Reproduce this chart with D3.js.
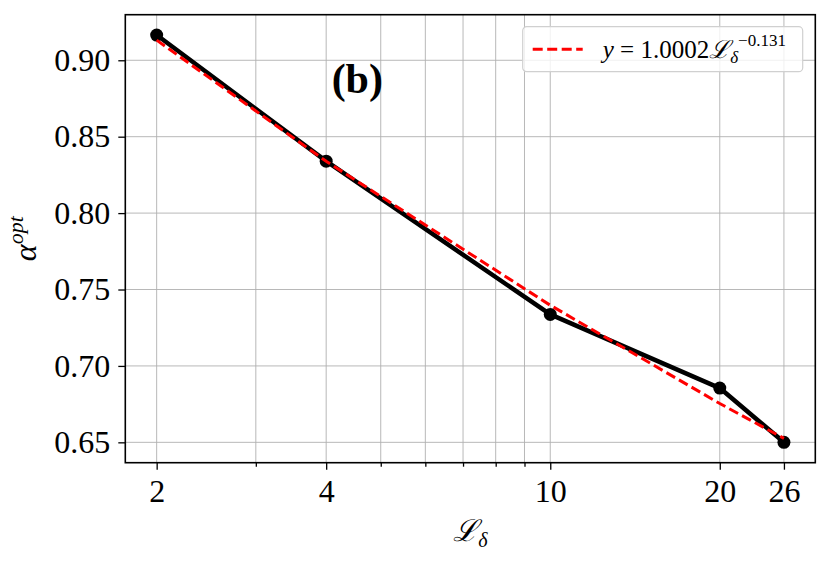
<!DOCTYPE html>
<html>
<head>
<meta charset="utf-8">
<script src="https://cdn.jsdelivr.net/npm/d3@7"></script>
<style>
  body { margin: 0; background: #fff; }
  text { font-family: "Liberation Serif", "DejaVu Serif", serif; }
</style>
</head>
<body>
<script>
// data
var lengths = [2, 4, 10, 20, 26];
var alphaOpt = [0.9165, 0.8340, 0.7337, 0.6855, 0.6500];
var fitValues = [0.9132, 0.8339, 0.7397, 0.6754, 0.6526];
var xTicks = [2, 4, 10, 20, 26];
var xMinorTicks = [3, 5, 6, 7, 8, 9];
var yTicks = [0.65, 0.70, 0.75, 0.80, 0.85, 0.90];

var width = 831, height = 561;
var margin = {top: 14.7, right: 15.7, bottom: 98.3, left: 125.3};
var w = width - margin.left - margin.right,
    h = height - margin.top - margin.bottom;

// log x with matplotlib-like 5% padding
var lx = d3.extent(lengths).map(Math.log10);
var padX = (lx[1] - lx[0]) * 0.05;
var x = d3.scaleLog()
  .domain([Math.pow(10, lx[0] - padX), Math.pow(10, lx[1] + padX)])
  .range([0, w]);

var ey = d3.extent(alphaOpt);
var padY = (ey[1] - ey[0]) * 0.05;
var y = d3.scaleLinear().domain([ey[0] - padY, ey[1] + padY]).range([h, 0]);

var svg = d3.select("body").append("svg")
    .attr("width", width)
    .attr("height", height)
  .append("g")
    .attr("transform", "translate(" + margin.left + "," + margin.top + ")");

// grid
var gridColor = "#b0b0b0";
svg.append("g").selectAll("line")
  .data(xTicks.concat(xMinorTicks))
  .join("line")
  .attr("x1", d => x(d)).attr("x2", d => x(d))
  .attr("y1", 0).attr("y2", h)
  .attr("stroke", gridColor).attr("stroke-width", 0.9);
svg.append("g").selectAll("line")
  .data(yTicks)
  .join("line")
  .attr("x1", 0).attr("x2", w)
  .attr("y1", d => y(d)).attr("y2", d => y(d))
  .attr("stroke", gridColor).attr("stroke-width", 0.9);

// axes
var xAxis = svg.append("g")
  .attr("transform", "translate(0," + h + ")")
  .call(d3.axisBottom(x).tickValues(xTicks).tickFormat(d3.format("d")).tickSize(7).tickPadding(10));
var xMinor = svg.append("g")
  .attr("transform", "translate(0," + h + ")")
  .call(d3.axisBottom(x).tickValues(xMinorTicks).tickFormat("").tickSize(4));
var yAxis = svg.append("g")
  .call(d3.axisLeft(y).tickValues(yTicks).tickFormat(d3.format(".2f")).tickSize(7).tickPadding(8));

[xAxis, xMinor, yAxis].forEach(function(g) {
  g.select(".domain").remove();
  g.selectAll(".tick line").attr("stroke", "#000").attr("stroke-width", 1.3);
  g.selectAll(".tick text")
    .attr("fill", "#000")
    .style("font-family", "'Liberation Serif', serif")
    .style("font-size", "32px");
});

// lines
var line = d3.line()
  .x((d, i) => x(lengths[i]))
  .y(d => y(d));

svg.append("path")
  .datum(alphaOpt)
  .attr("d", line)
  .attr("fill", "none")
  .attr("stroke", "#000")
  .attr("stroke-width", 4.5)
  .attr("stroke-linejoin", "round");

svg.append("g").selectAll("circle")
  .data(alphaOpt)
  .join("circle")
  .attr("cx", (d, i) => x(lengths[i]))
  .attr("cy", d => y(d))
  .attr("r", 6.5)
  .attr("fill", "#000");

svg.append("path")
  .datum(fitValues)
  .attr("d", line)
  .attr("fill", "none")
  .attr("stroke", "#ff0000")
  .attr("stroke-width", 3)
  .attr("stroke-dasharray", "10,4.5");

// frame
svg.append("rect")
  .attr("width", w).attr("height", h)
  .attr("fill", "none")
  .attr("stroke", "#000")
  .attr("stroke-width", 1.6);

// panel label
svg.append("text")
  .attr("x", 232)
  .attr("y", 78)
  .attr("text-anchor", "middle")
  .style("font-size", "42px")
  .style("font-weight", "bold")
  .text("(b)");

// legend
var leg = svg.append("g").attr("transform", "translate(397.4,12)");
leg.append("rect")
  .attr("width", 280).attr("height", 45)
  .attr("rx", 4)
  .attr("fill", "#fff").attr("fill-opacity", 0.8)
  .attr("stroke", "#d0d0d0").attr("stroke-width", 1.2);
leg.append("line")
  .attr("x1", 10).attr("x2", 60)
  .attr("y1", 22.5).attr("y2", 22.5)
  .attr("stroke", "#ff0000").attr("stroke-width", 3)
  .attr("stroke-dasharray", "10,4.5");
var lt = leg.append("text")
  .attr("x", 80).attr("y", 31)
  .style("font-size", "25px");
lt.append("tspan").style("font-style", "italic").text("y");
lt.append("tspan").text(" = 1.0002");
lt.append("tspan").style("font-style", "italic").text("\u2112");
lt.append("tspan").style("font-style", "italic").style("font-size", "17px").attr("dy", 5).text("\u03b4");
lt.append("tspan").style("font-size", "17px").attr("dy", -17).text("\u22120.131");

// axis titles
var xl = svg.append("text")
  .attr("x", 345)
  .attr("y", h + 78)
  .attr("text-anchor", "middle")
  .style("font-size", "30px");
xl.append("tspan").style("font-style", "italic").text("\u2112");
xl.append("tspan").style("font-style", "italic").style("font-size", "20px").attr("dy", 6).text("\u03b4");

var yl = svg.append("text")
  .attr("transform", "translate(" + (-89) + "," + (h / 2) + ") rotate(-90)")
  .attr("text-anchor", "middle")
  .style("font-size", "32px");
yl.append("tspan").style("font-style", "italic").text("\u03b1");
yl.append("tspan").style("font-style", "italic").style("font-size", "22px").attr("dy", -13).text("opt");
</script>
</body>
</html>
